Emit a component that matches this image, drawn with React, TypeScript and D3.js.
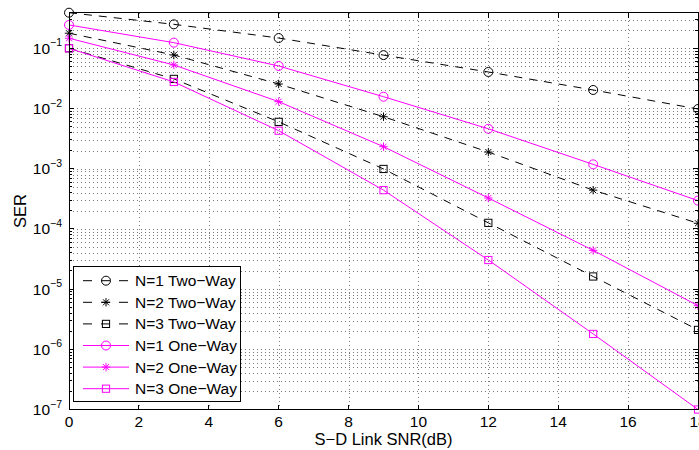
import React from 'react';
import * as d3 from 'd3';

// S-D link SNR (dB)
const snr = [0, 3, 6, 9, 12, 15, 18];

// SER values
const n1TwoWay = [0.39, 0.25, 0.148, 0.077, 0.0404, 0.0203, 0.0098];
const n2TwoWay = [0.178, 0.0774, 0.0255, 0.0073, 0.00189, 0.00044, 0.000124];
const n3TwoWay = [0.1, 0.031, 0.006, 0.00099, 0.000126, 1.62e-5, 2.1e-6];
const n1OneWay = [0.244, 0.124, 0.0508, 0.0157, 0.0046, 0.00118, 0.000295];
const n2OneWay = [0.147, 0.0528, 0.013, 0.00232, 0.000326, 4.4e-5, 5.3e-6];
const n3OneWay = [0.1, 0.0276, 0.00428, 0.00044, 3.04e-5, 1.8e-6, 1e-7];

const seriesNames = [
  'N=1 Two\u2212Way',
  'N=2 Two\u2212Way',
  'N=3 Two\u2212Way',
  'N=1 One\u2212Way',
  'N=2 One\u2212Way',
  'N=3 One\u2212Way',
];
const seriesValues = [n1TwoWay, n2TwoWay, n3TwoWay, n1OneWay, n2OneWay, n3OneWay];
const seriesMarkers = ['circle', 'star', 'square', 'circle', 'star', 'square'];

const xTicks = [0, 2, 4, 6, 8, 10, 12, 14, 16, 18];
const yExponents = [-1, -2, -3, -4, -5, -6, -7];

const W = 699;
const H = 450;
const FONT = '"Liberation Sans", Arial, Helvetica, sans-serif';
const MAGENTA = '#ff00ff';

type Marker = 'circle' | 'star' | 'square';

const MarkerShape = ({ kind, cx, cy, color }: { kind: Marker; cx: number; cy: number; color: string }) => {
  if (kind === 'circle') {
    return <circle cx={cx} cy={cy} r={4.5} fill="none" stroke={color} strokeWidth={1} />;
  }
  if (kind === 'square') {
    return <rect x={cx - 3.6} y={cy - 3.6} width={7.2} height={7.2} fill="none" stroke={color} strokeWidth={1} />;
  }
  const s = 4.2;
  const d = s * 0.72;
  return (
    <g stroke={color} strokeWidth={1}>
      <line x1={cx - s} y1={cy} x2={cx + s} y2={cy} />
      <line x1={cx} y1={cy - s} x2={cx} y2={cy + s} />
      <line x1={cx - d} y1={cy - d} x2={cx + d} y2={cy + d} />
      <line x1={cx - d} y1={cy + d} x2={cx + d} y2={cy - d} />
    </g>
  );
};

const App = () => {
  const margin = { left: 69, right: 698, top: 12.7, bottom: 409.5 };
  const yMax = d3.max(seriesValues.flat()) as number;
  const yMin = d3.min(seriesValues.flat()) as number;

  const x = d3.scaleLinear().domain([0, 18]).range([margin.left, margin.right]);
  const y = d3.scaleLog().domain([yMin, yMax]).range([margin.bottom, margin.top]);

  // all 1..9 x 10^k values inside the range
  const logTicks: number[] = [];
  for (let k = -7; k <= -1; k++) {
    for (let m = 1; m <= 9; m++) {
      const v = m * Math.pow(10, k);
      if (v >= yMin * 0.999 && v <= yMax) logTicks.push(v);
    }
  }
  const isMajor = (v: number) => Math.abs(Math.log10(v) - Math.round(Math.log10(v))) < 1e-9;

  const line = d3
    .line<number>()
    .x((_, i) => x(snr[i]))
    .y((d) => y(d));

  const gridStyle = { stroke: '#7a7a7a', strokeWidth: 1, strokeDasharray: '1 3' };

  const legend = { x: 73, y: 266.7, w: 167, h: 135, row0: 280.7, step: 21.6 };

  return (
    <svg width={W} height={H} style={{ position: 'absolute', left: 0, top: 0, background: '#fff' }} fontFamily={FONT}>
      <rect x={0} y={0} width={W} height={H} fill="#fff" />

      {/* grid */}
      <g shapeRendering="crispEdges">
        {logTicks
          .filter((v) => v > yMin * 1.001)
          .map((v) => (
            <line key={'gy' + v} x1={margin.left} x2={margin.right} y1={Math.round(y(v)) + 0.5} y2={Math.round(y(v)) + 0.5} {...gridStyle} />
          ))}
        {xTicks.slice(1, -1).map((t) => (
          <line key={'gx' + t} x1={Math.round(x(t)) + 0.5} x2={Math.round(x(t)) + 0.5} y1={margin.top} y2={margin.bottom} {...gridStyle} />
        ))}
      </g>

      {/* series */}
      {seriesValues.map((vals, si) => {
        const twoWay = si < 3;
        const color = twoWay ? '#000' : MAGENTA;
        return (
          <g key={seriesNames[si]}>
            <path d={line(vals) as string} fill="none" stroke={color} strokeWidth={1} strokeDasharray={twoWay ? '8 7' : undefined} />
            {vals.map((v, i) => (
              <MarkerShape key={i} kind={seriesMarkers[si] as Marker} cx={x(snr[i])} cy={y(v)} color={color} />
            ))}
          </g>
        );
      })}

      {/* axes box and ticks */}
      <g stroke="#000" strokeWidth={1} shapeRendering="crispEdges">
        <rect x={margin.left} y={margin.top} width={margin.right - margin.left} height={margin.bottom - margin.top} fill="none" />
        {xTicks.map((t) => (
          <g key={'tx' + t}>
            <line x1={x(t)} x2={x(t)} y1={margin.bottom} y2={margin.bottom - 5} />
            <line x1={x(t)} x2={x(t)} y1={margin.top} y2={margin.top + 5} />
          </g>
        ))}
        {logTicks.map((v) => {
          const len = isMajor(v) ? 5 : 3;
          return (
            <g key={'ty' + v}>
              <line x1={margin.left} x2={margin.left + len} y1={y(v)} y2={y(v)} />
              <line x1={margin.right} x2={margin.right - len} y1={y(v)} y2={y(v)} />
            </g>
          );
        })}
      </g>

      {/* tick labels */}
      <g fontSize={15.5} fill="#000">
        {xTicks.map((t) => (
          <text key={'lx' + t} x={x(t)} y={426.5} textAnchor="middle">
            {t}
          </text>
        ))}
        {yExponents.map((e) => (
          <text key={'ly' + e} x={62} y={y(Math.pow(10, e)) + 5.6} textAnchor="end">
            10
            <tspan fontSize={10.5} dy={-7.5}>
              {'\u2212' + Math.abs(e)}
            </tspan>
          </text>
        ))}
      </g>

      {/* axis labels */}
      <text x={(margin.left + margin.right) / 2} y={444.5} textAnchor="middle" fontSize={16.5}>
        {'S\u2212D Link SNR(dB)'}
      </text>
      <text transform={`translate(26,${(margin.top + margin.bottom) / 2}) rotate(-90)`} textAnchor="middle" fontSize={16.5}>
        SER
      </text>

      {/* legend */}
      <g>
        <rect x={legend.x} y={legend.y} width={legend.w} height={legend.h} fill="#fff" stroke="#000" strokeWidth={1} shapeRendering="crispEdges" />
        {seriesNames.map((name, si) => {
          const twoWay = si < 3;
          const color = twoWay ? '#000' : MAGENTA;
          const ly = legend.row0 + si * legend.step;
          return (
            <g key={'lg' + name}>
              <line x1={83} x2={129} y1={ly} y2={ly} stroke={color} strokeWidth={1} strokeDasharray={twoWay ? '9 9' : undefined} />
              <MarkerShape kind={seriesMarkers[si] as Marker} cx={106} cy={ly} color={color} />
              <text x={135} y={ly + 5.5} fontSize={15.5}>
                {name}
              </text>
            </g>
          );
        })}
      </g>
    </svg>
  );
};

export default App;
